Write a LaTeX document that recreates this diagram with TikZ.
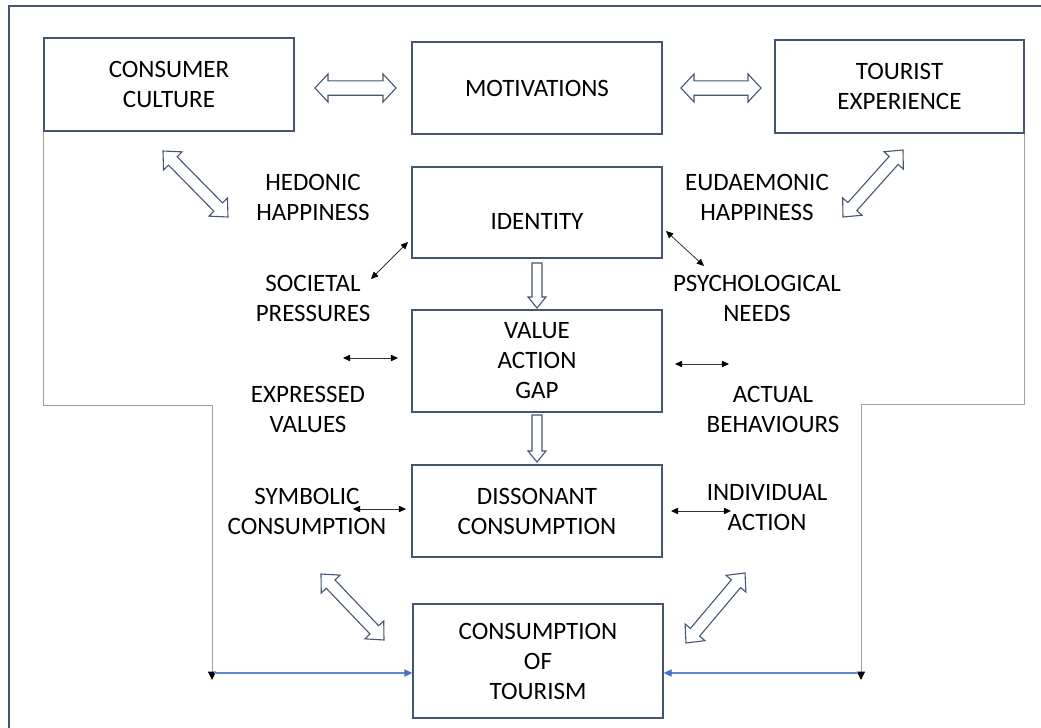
\documentclass[tikz,border=0pt]{standalone}
\usepackage{fontspec}
\setmainfont{Carlito}
\usetikzlibrary{calc,arrows.meta}

\definecolor{slate}{RGB}{70,86,112}
\definecolor{pathgray}{RGB}{160,160,160}
\definecolor{linkblue}{RGB}{68,114,196}

% double-headed hollow block arrow between two tip coordinates
% #1 head length, #2 head half width, #3 shaft half width, #4/#5 tips
\newcommand\fatdbl[5]{%
  \draw[fat] (#4)
    -- ($(#4)!#1!(#5)!#2!90:(#5)$)
    -- ($(#4)!#1!(#5)!#3!90:(#5)$)
    -- ($(#5)!#1!(#4)!#3!-90:(#4)$)
    -- ($(#5)!#1!(#4)!#2!-90:(#4)$)
    -- (#5)
    -- ($(#5)!#1!(#4)!#2!90:(#4)$)
    -- ($(#5)!#1!(#4)!#3!90:(#4)$)
    -- ($(#4)!#1!(#5)!#3!-90:(#5)$)
    -- ($(#4)!#1!(#5)!#2!-90:(#5)$)
    -- cycle;}
% single-headed hollow block arrow from #4 (flat end) to #5 (tip)
\newcommand\fatsgl[5]{%
  \draw[fat] ($(#4)!#3!90:(#5)$)
    -- ($(#5)!#1!(#4)!#3!-90:(#4)$)
    -- ($(#5)!#1!(#4)!#2!-90:(#4)$)
    -- (#5)
    -- ($(#5)!#1!(#4)!#2!90:(#4)$)
    -- ($(#5)!#1!(#4)!#3!90:(#4)$)
    -- ($(#4)!#3!-90:(#5)$)
    -- cycle;}

\tikzset{
  box/.style={draw=slate, line width=0.65pt, rectangle, minimum width=125pt,
              inner sep=0pt, align=center, font=\fontsize{12.5}{15}\selectfont},
  lbl/.style={align=center, inner sep=0pt, font=\fontsize{12.5}{15}\selectfont},
  fat/.style={draw=slate, fill=white, line width=0.55pt, line join=miter},
  twoway/.style={draw=black!80, line width=0.4pt,
               {Triangle[length=3.6pt,width=3.2pt,color=black]}-{Triangle[length=3.6pt,width=3.2pt,color=black]}},
  feed/.style={draw=pathgray, line width=0.5pt,
               -{Triangle[length=4.2pt,width=4pt,color=black]}},
  bluelink/.style={draw=linkblue!85, line width=0.55pt,
               -{Triangle[length=4pt,width=3.6pt,color=linkblue]}},
  frame/.style={draw=slate, line width=0.8pt}
}

\begin{document}
\begin{tikzpicture}[x=0.5pt,y=-0.5pt]
\useasboundingbox[fill=white] (0,0) rectangle (1041,728);

% outer frame
\draw[frame] (9,728) -- (9,6) -- (1041,6);

% boxes
\node[box, minimum height=46.5pt] (cc)  at (169,84.5) {CONSUMER\\CULTURE};
\node[box, minimum height=46pt]   (mot) at (537,88)   {MOTIVATIONS};
\node[box, minimum width=124.5pt, minimum height=46.5pt] (te) at (899.5,86.5) {TOURIST\\EXPERIENCE};
\node[box, minimum height=45.5pt, label={[lbl, yshift=-4.5pt]center:IDENTITY}] (id) at (537,212.5) {};
\node[box, minimum height=51pt]   (vag) at (537,361)  {VALUE\\ACTION\\GAP};
\node[box, minimum height=46pt]   (dis) at (537,511)  {DISSONANT\\CONSUMPTION};
\node[box, minimum height=57pt]   (ct)  at (538,661)  {CONSUMPTION\\OF\\TOURISM};

% free labels
\node[lbl] (hed) at (313,197) {HEDONIC\\HAPPINESS};
\node[lbl] (eud) at (757,197) {EUDAEMONIC\\HAPPINESS};
\node[lbl] (soc) at (313,298) {SOCIETAL\\PRESSURES};
\node[lbl] (psy) at (757,298) {PSYCHOLOGICAL\\NEEDS};
\node[lbl] (exv) at (308,409) {EXPRESSED\\VALUES};
\node[lbl] (acb) at (773,409) {ACTUAL\\BEHAVIOURS};
\node[lbl] (sym) at (307,511) {SYMBOLIC\\CONSUMPTION};
\node[lbl] (ind) at (767,508) {INDIVIDUAL\\ACTION};

% end points of the block arrows
\coordinate (a1s) at (315,88);  \coordinate (a1e) at (396,88);
\coordinate (a2s) at (681,88);  \coordinate (a2e) at (761,88);
\coordinate (a3s) at (163,151); \coordinate (a3e) at (228,217);
\coordinate (a4s) at (903,150); \coordinate (a4e) at (843,217);
\coordinate (a5s) at (537,263); \coordinate (a5e) at (537,308);
\coordinate (a6s) at (537,415); \coordinate (a6e) at (537,462);
\coordinate (a7s) at (321,574); \coordinate (a7e) at (384,640);
\coordinate (a8s) at (745,573); \coordinate (a8e) at (686,643);

\fatdbl{6.5pt}{7pt}{3.6pt}{a1s}{a1e}
\fatdbl{6.5pt}{7pt}{3.6pt}{a2s}{a2e}
\fatdbl{7pt}{6.5pt}{3pt}{a3s}{a3e}
\fatdbl{7pt}{6.5pt}{3pt}{a4s}{a4e}
\fatsgl{5.5pt}{4.5pt}{2.5pt}{a5s}{a5e}
\fatsgl{5.5pt}{4.5pt}{2.5pt}{a6s}{a6e}
\fatdbl{7pt}{6.5pt}{3pt}{a7s}{a7e}
\fatdbl{7pt}{6.5pt}{3pt}{a8s}{a8e}

% small two-way links
\coordinate (t1s) at (371,279); \coordinate (t1e) at (408,242);
\coordinate (t2s) at (666,231); \coordinate (t2e) at (704,266);
\coordinate (t3s) at (343,358); \coordinate (t3e) at (398,358);
\coordinate (t4s) at (675,364); \coordinate (t4e) at (729,364);
\coordinate (t5s) at (353,509); \coordinate (t5e) at (406,509);
\coordinate (t6s) at (671,511); \coordinate (t6e) at (731,511);
\draw[twoway] (t1s) -- (t1e);
\draw[twoway] (t2s) -- (t2e);
\draw[twoway] (t3s) -- (t3e);
\draw[twoway] (t4s) -- (t4e);
\draw[twoway] (t5s) -- (t5e);
\draw[twoway] (t6s) -- (t6e);

% outer feedback paths into consumption of tourism
\coordinate (lk1) at (212,405); \coordinate (lk2) at (212,680);
\coordinate (rk1) at (861,404); \coordinate (rk2) at (861,680);
\draw[feed] (cc.south west) |- (lk1) -- (lk2);
\draw[feed] (te.south east) |- (rk1) -- (rk2);
\coordinate (lb) at (214,673);
\coordinate (rb) at (858,673);
\draw[bluelink] (lb) -- (lb -| ct.west);
\draw[bluelink] (rb) -- (rb -| ct.east);
\end{tikzpicture}
\end{document}
